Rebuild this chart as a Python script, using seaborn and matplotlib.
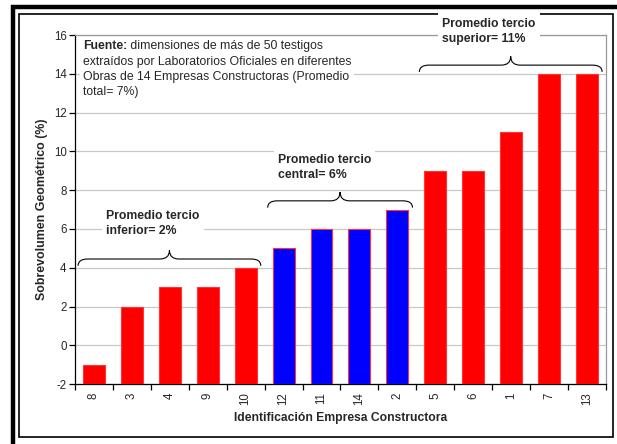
import matplotlib
matplotlib.use("Agg")
import matplotlib.pyplot as plt
import matplotlib.patches as mpatches
from matplotlib.path import Path
from matplotlib.ticker import FixedLocator
import pandas as pd
import seaborn as sns

# data
empresas = ["8", "3", "4", "9", "10", "12", "11", "14", "2", "5", "6", "1", "7", "13"]
sobrevolumen = [-1, 2, 3, 3, 4, 5, 6, 6, 7, 9, 9, 11, 14, 14]
tercio = ["inferior"] * 5 + ["central"] * 4 + ["superior"] * 5
tercios = ["inferior", "central", "superior"]
promedio_tercio = [2, 6, 11]
colores_tercio = {"inferior": "#FF0000", "central": "#0000FF", "superior": "#FF0000"}

fuente_l1 = " dimensiones de más de 50 testigos"
fuente_resto = ("extraídos por Laboratorios Oficiales en diferentes\n"
                "Obras de 14 Empresas Constructoras (Promedio\n"
                "total= 7%)")

sns.set_style("white")
plt.rcParams["font.family"] = ["Liberation Sans", "DejaVu Sans"]
plt.rcParams["axes.unicode_minus"] = False

df = pd.DataFrame({"empresa": empresas, "valor": sobrevolumen, "tercio": tercio})

fig = plt.figure(figsize=(6.17, 4.44), dpi=100)
ax = fig.add_axes([0.1216, 0.135, 0.982 - 0.1216, 0.921 - 0.135])

# frames around the chart
fig.patches.append(mpatches.Rectangle((0.021, -0.05), 1.1, 0.05 + 0.984, transform=fig.transFigure,
                                      fill=False, ec="black", lw=3.2, zorder=-2))
fig.patches.append(mpatches.Rectangle((0.0308, 0.0158), 0.9935 - 0.0308, 0.968 - 0.0158,
                                      transform=fig.transFigure, fill=False, ec="black",
                                      lw=1.2, zorder=-2))

ymin, ymax = -2, 16
sns.barplot(data=df, x="empresa", y="valor", hue="tercio", order=empresas,
            palette=colores_tercio, dodge=False, width=0.58, saturation=1,
            edgecolor="#FF3333", linewidth=0.8, legend=False, ax=ax, zorder=3)
# excel-style: bars start at the bottom of the axis, not at zero
for p in ax.patches:
    end = p.get_y() + p.get_height()
    p.set_y(ymin)
    p.set_height(end - ymin)

ax.set_ylim(ymin, ymax)
ax.set_xlim(-0.5, len(empresas) - 0.5)
ax.set_yticks(range(ymin, ymax + 1, 2))
ax.yaxis.grid(True, color="#C8C8C8", lw=0.9)
ax.set_axisbelow(True)
ax.tick_params(axis="y", labelsize=8.3, direction="out", length=4, width=0.9, color="black",
               left=True, pad=2)
ax.tick_params(axis="x", which="major", length=0, labelsize=8.3, labelrotation=90, pad=6)
ax.xaxis.set_minor_locator(FixedLocator([i - 0.5 for i in range(len(empresas) + 1)]))
ax.tick_params(axis="x", which="minor", direction="out", length=4, width=0.9, color="black",
               bottom=True)
for s in ["left", "bottom"]:
    ax.spines[s].set_color("black")
    ax.spines[s].set_linewidth(0.9)
for s in ["top", "right"]:
    ax.spines[s].set_color("#999999")
    ax.spines[s].set_linewidth(0.9)

ax.set_ylabel("Sobrevolumen Geométrico (%)", fontsize=8.9, fontweight="bold", labelpad=4)
ax.set_xlabel("Identificación Empresa Constructora", fontsize=8.7, fontweight="bold", labelpad=5)


def brace(ax, x0, x1, y_end, y_line, y_tip, dx=0.25):
    xm = (x0 + x1) / 2
    verts = [(x0, y_end), (x0, y_line), (x0 + dx, y_line), (xm - dx, y_line),
             (xm, y_line), (xm, y_tip), (xm, y_line), (xm + dx, y_line),
             (x1 - dx, y_line), (x1, y_line), (x1, y_end)]
    codes = [Path.MOVETO, Path.CURVE3, Path.CURVE3, Path.LINETO, Path.CURVE3, Path.CURVE3,
             Path.CURVE3, Path.CURVE3, Path.LINETO, Path.CURVE3, Path.CURVE3]
    ax.add_patch(mpatches.PathPatch(Path(verts, codes), fill=False, ec="black", lw=0.8,
                                    zorder=4, clip_on=False))


# braces and labels for each third
label_pos = [(0.32, 6.28), (4.85, 9.19), (9.18, 16.2)]
for t, prom, (tx, ty) in zip(tercios, promedio_tercio, label_pos):
    idx = [i for i, g in enumerate(tercio) if g == t]
    top = max(sobrevolumen[i] for i in idx)
    brace(ax, idx[0] - 0.42, idx[-1] + 0.4, top + 0.1, top + 0.45, top + 0.9)
    ax.text(tx, ty, f"Promedio tercio\n{t}= {prom}%", ha="left", va="center",
            fontsize=8.8, fontweight="bold", linespacing=1.35, zorder=5,
            bbox=dict(fc="white", ec="none", pad=3))

# source note: bold "Fuente:" then plain text
t1 = ax.text(-0.29, 15.76, "Fuente:", ha="left", va="top", fontsize=8.8,
             fontweight="bold", zorder=5)
ax.annotate(fuente_l1, xy=(1, 0), xycoords=t1, ha="left", va="bottom", fontsize=8.8, zorder=5)
ax.annotate(fuente_resto, xy=(0, 0), xycoords=t1, xytext=(0, -2.8), textcoords="offset points",
            ha="left", va="top", fontsize=8.8, linespacing=1.33, zorder=5,
            bbox=dict(fc="white", ec="none", pad=2))

fig.savefig("out.png", dpi=100)
